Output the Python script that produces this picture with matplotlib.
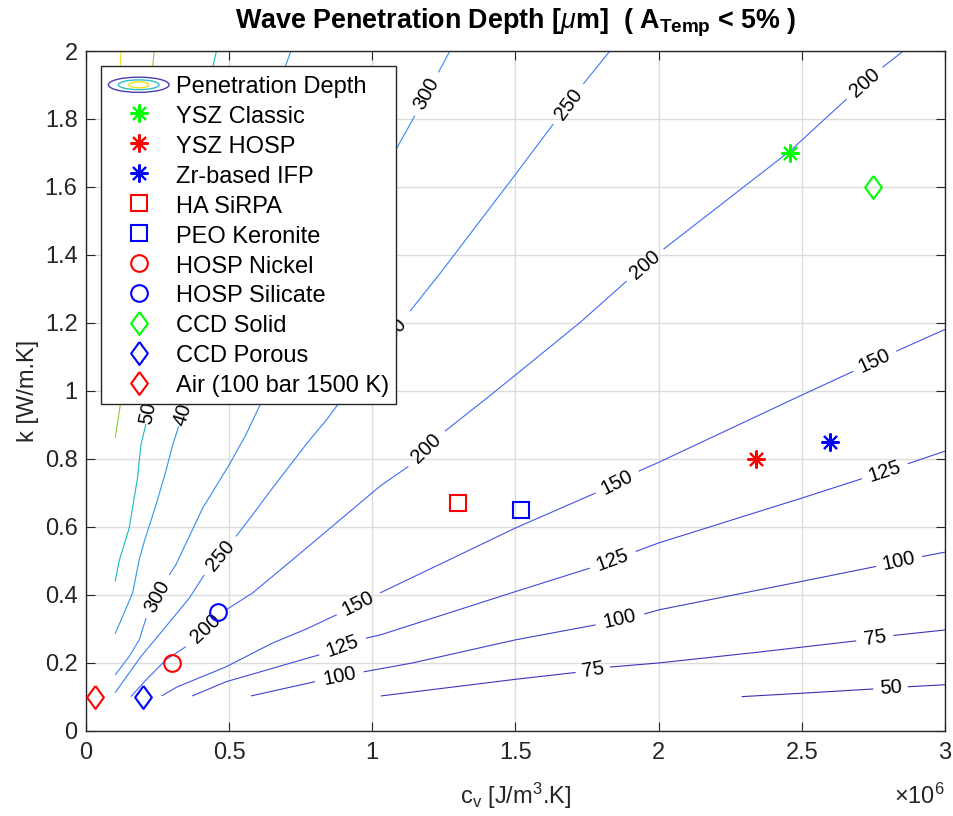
import numpy as np
import matplotlib
matplotlib.use("Agg")
import matplotlib.pyplot as plt
from matplotlib.patches import Ellipse
from matplotlib.legend_handler import HandlerBase
from matplotlib.ticker import FuncFormatter, MultipleLocator

plt.rcParams["font.family"] = ["Liberation Sans", "DejaVu Sans"]
plt.rcParams["mathtext.fontset"] = "custom"
plt.rcParams["mathtext.rm"] = "Liberation Sans"
plt.rcParams["mathtext.it"] = "Liberation Sans:italic"
plt.rcParams["mathtext.bf"] = "Liberation Sans:bold"

# ── contour lines: (c_v [1e6 J/m3.K], k [W/m.K]) ──
# each level is a list of pieces; the gap between two pieces holds the label
C50 = [
    [(2.29, 0.101), (2.52, 0.112), (2.75, 0.1235)],
    [(2.87, 0.130), (3.00, 0.136)],
]
C75 = [
    [(1.03, 0.103), (1.50, 0.152), (1.71, 0.172)],
    [(1.83, 0.188), (2.00, 0.200), (2.35, 0.232), (2.69, 0.265)],
    [(2.82, 0.281), (3.00, 0.297)],
]
C100 = [
    [(0.576, 0.103), (0.80, 0.145)],
    [(0.97, 0.174), (1.14, 0.200), (1.50, 0.268), (1.78, 0.312)],
    [(1.95, 0.344), (2.00, 0.356), (2.50, 0.440), (2.76, 0.484)],
    [(2.92, 0.513), (3.00, 0.526)],
]
C125 = [
    [(0.371, 0.103), (0.49, 0.145), (0.72, 0.201), (0.815, 0.224)],
    [(0.978, 0.273), (1.03, 0.283), (1.50, 0.410), (1.76, 0.479)],
    [(1.92, 0.528), (2.00, 0.553), (2.50, 0.685), (2.71, 0.742)],
    [(2.87, 0.786), (3.00, 0.823)],
]
C150 = [
    [(0.264, 0.103), (0.317, 0.129), (0.49, 0.189), (0.65, 0.258),
     (0.77, 0.300), (0.876, 0.342)],
    [(1.027, 0.406), (1.27, 0.504), (1.50, 0.597), (1.78, 0.700)],
    [(1.93, 0.764), (2.00, 0.790), (2.48, 0.980), (2.68, 1.058)],
    [(2.83, 1.117), (3.00, 1.181)],
]
C200 = [
    [(0.157, 0.101), (0.204, 0.145), (0.279, 0.209), (0.349, 0.248)],
    [(0.489, 0.356), (0.582, 0.406), (0.722, 0.504), (1.027, 0.720),
     (1.126, 0.778)],
    [(1.254, 0.882), (1.394, 0.975), (1.481, 1.034), (1.725, 1.201),
     (1.888, 1.323)],
    [(2.017, 1.417), (2.459, 1.706), (2.657, 1.859)],
    [(2.782, 1.952), (2.855, 2.0)],
]
C250 = [
    [(0.102, 0.113), (0.192, 0.219), (0.279, 0.307), (0.361, 0.391),
     (0.413, 0.459)],
    [(0.524, 0.572), (0.582, 0.636), (0.652, 0.715), (0.768, 0.842),
     (0.841, 0.916), (1.006, 1.104)],
    [(1.132, 1.235), (1.236, 1.345), (1.50, 1.637), (1.632, 1.785)],
    [(1.737, 1.903), (1.83, 2.0)],
]
C300 = [
    [(0.102, 0.165), (0.151, 0.219), (0.186, 0.268), (0.210, 0.332)],
    [(0.291, 0.459), (0.314, 0.489), (0.408, 0.656), (0.501, 0.784),
     (0.559, 0.872), (0.617, 0.975), (1.076, 1.700), (1.149, 1.810)],
    [(1.231, 1.937), (1.271, 2.0)],
]
C400 = [
    [(0.102, 0.286), (0.128, 0.337), (0.163, 0.406), (0.186, 0.504),
     (0.204, 0.558), (0.245, 0.666), (0.279, 0.764), (0.303, 0.842),
     (0.324, 0.896)],
    [(0.362, 0.996), (0.699, 1.961), (0.716, 2.0)],
]
C500 = [
    [(0.102, 0.440), (0.116, 0.500), (0.151, 0.597), (0.180, 0.744),
     (0.192, 0.842), (0.2096, 0.903)],
    [(0.232, 0.997), (0.445, 1.961), (0.456, 2.0)],
]
C700 = [
    [(0.102, 0.862), (0.122, 0.970), (0.233, 1.957), (0.2385, 2.0)],
]
C1000 = [
    [(0.100, 1.60), (0.120, 1.957), (0.122, 2.0)],
]

LEVELS = [50, 75, 100, 125, 150, 200, 250, 300, 400, 500, 700, 1000]
CONTOURS = [C50, C75, C100, C125, C150, C200, C250, C300, C400, C500, C700, C1000]

# ── material points ──
MAT_NAMES = ["YSZ Classic", "YSZ HOSP", "Zr-based IFP", "HA SiRPA",
             "PEO Keronite", "HOSP Nickel", "HOSP Silicate", "CCD Solid",
             "CCD Porous", "Air (100 bar 1500 K)"]
MAT_CV = [2.46e6, 2.34e6, 2.60e6, 1.30e6, 1.52e6, 0.30e6, 0.46e6, 2.75e6,
          0.20e6, 0.03e6]
MAT_K = [1.70, 0.80, 0.85, 0.67, 0.65, 0.20, 0.35, 1.60, 0.10, 0.10]

# ── styles ──
LEVEL_COLORS = ["#3b2fae", "#3d35bb", "#4040c8", "#4349d6", "#4556e2",
                "#4168f2", "#3d7cf6", "#3a88f2", "#2f98e8", "#18b8c6",
                "#8fcc3a", "#f2e21c"]
DIAMOND = [(0, 1), (0.73, 0), (0, -1), (-0.73, 0), (0, 1)]
MAT_MARKERS = [(8, 2, 0)] * 3 + ["s"] * 2 + ["o"] * 2 + [DIAMOND] * 3
MAT_SIZES = [13] * 3 + [11] * 2 + [12] * 2 + [16.5] * 3
MAT_COLORS = ["#00ff00", "#ff0000", "#0000ff", "#ff0000", "#0000ff",
              "#ff0000", "#0000ff", "#00ff00", "#0000ff", "#ff0000"]
AXIS_COLOR = "#262626"


class ContourProxy:
    pass


class ContourIconHandler(HandlerBase):
    # three nested rings, like MATLAB's contour legend icon
    def create_artists(self, legend, orig_handle, xdescent, ydescent,
                       width, height, fontsize, trans):
        cx = 0.5 * width - xdescent
        cy = 0.5 * height - ydescent
        rings = [(1.0, 0.67, "#4a3cb0"), (0.67, 0.43, "#2fbfca"),
                 (0.33, 0.27, "#eedf1c")]
        arts = []
        for fw, fh, col in rings:
            e = Ellipse((cx, cy), width * fw, height * fh, fill=False,
                        edgecolor=col, lw=1.0, transform=trans)
            arts.append(e)
        return arts


fig = plt.figure(figsize=(9.54, 8.16), dpi=100)
ax = fig.add_axes([0.0901, 0.1042, 0.9004, 0.8333])
ax.set_xlim(0, 3e6)
ax.set_ylim(0, 2)

# contour lines with inline labels
for level, pieces, col in zip(LEVELS, CONTOURS, LEVEL_COLORS):
    for piece in pieces:
        xs = np.array([p[0] for p in piece]) * 1e6
        ys = np.array([p[1] for p in piece])
        ax.plot(xs, ys, color=col, lw=0.8, zorder=2, solid_capstyle="butt")
    for a, b in zip(pieces[:-1], pieces[1:]):
        p0 = np.array([a[-1][0] * 1e6, a[-1][1]])
        p1 = np.array([b[0][0] * 1e6, b[0][1]])
        d0, d1 = ax.transData.transform([p0, p1])
        ang = np.degrees(np.arctan2(d1[1] - d0[1], d1[0] - d0[0]))
        if ang > 90:
            ang -= 180
        elif ang < -90:
            ang += 180
        mid = 0.5 * (p0 + p1)
        ax.text(mid[0], mid[1], str(level), rotation=ang,
                rotation_mode="anchor", ha="center", va="center",
                fontsize=14.5, color="black", zorder=3)

# material markers
handles = [ContourProxy()]
labels = ["Penetration Depth"]
for name, cv, k, mk, ms, col in zip(MAT_NAMES, MAT_CV, MAT_K, MAT_MARKERS,
                                    MAT_SIZES, MAT_COLORS):
    h, = ax.plot([cv], [k], linestyle="none", marker=mk, markersize=ms,
                 markerfacecolor="none", markeredgecolor=col,
                 markeredgewidth=1.5, zorder=4)
    handles.append(h)
    labels.append(name)

# axes styling (MATLAB look)
ax.xaxis.set_major_locator(MultipleLocator(0.5e6))
ax.yaxis.set_major_locator(MultipleLocator(0.2))
ax.xaxis.set_major_formatter(FuncFormatter(lambda x, _: f"{x / 1e6:g}"))
ax.yaxis.set_major_formatter(FuncFormatter(lambda y, _: f"{y:g}"))
ax.grid(True, color="#dcdcdc", lw=1.0, zorder=0)
ax.set_axisbelow(True)
ax.tick_params(direction="in", length=6.2, width=0.8, colors=AXIS_COLOR,
               labelsize=17, top=True, right=True)
ax.tick_params(axis="x", pad=8)
ax.tick_params(axis="y", pad=6)
for s in ax.spines.values():
    s.set_color(AXIS_COLOR)
    s.set_linewidth(1.0)

ax.set_xlabel(r"c$_\mathrm{v}$ [J/m$^\mathrm{3}$.K]", fontsize=17,
              color=AXIS_COLOR, labelpad=12)
ax.set_ylabel("k [W/m.K]", fontsize=17, color=AXIS_COLOR, labelpad=4)
ax.text(1.0, -0.096, r"$\times\mathrm{10}^\mathrm{6}$", transform=ax.transAxes,
        ha="right", va="center", fontsize=17, color=AXIS_COLOR)
ax.set_title(r"Wave Penetration Depth [$\mu$m]  ( A$_\mathbf{Temp}$ < 5% )",
             fontsize=19.4, fontweight="bold", pad=16)

leg = ax.legend(handles, labels, loc="upper left", fontsize=17,
                handlelength=2.57, handleheight=1.1, handletextpad=0.28,
                borderpad=0.3, labelspacing=0.237, borderaxespad=0.65,
                fancybox=False, framealpha=1, edgecolor=AXIS_COLOR,
                handler_map={ContourProxy: ContourIconHandler()})
leg.get_frame().set_linewidth(1.0)
leg.set_zorder(6)

fig.savefig("out.png", dpi=100)
